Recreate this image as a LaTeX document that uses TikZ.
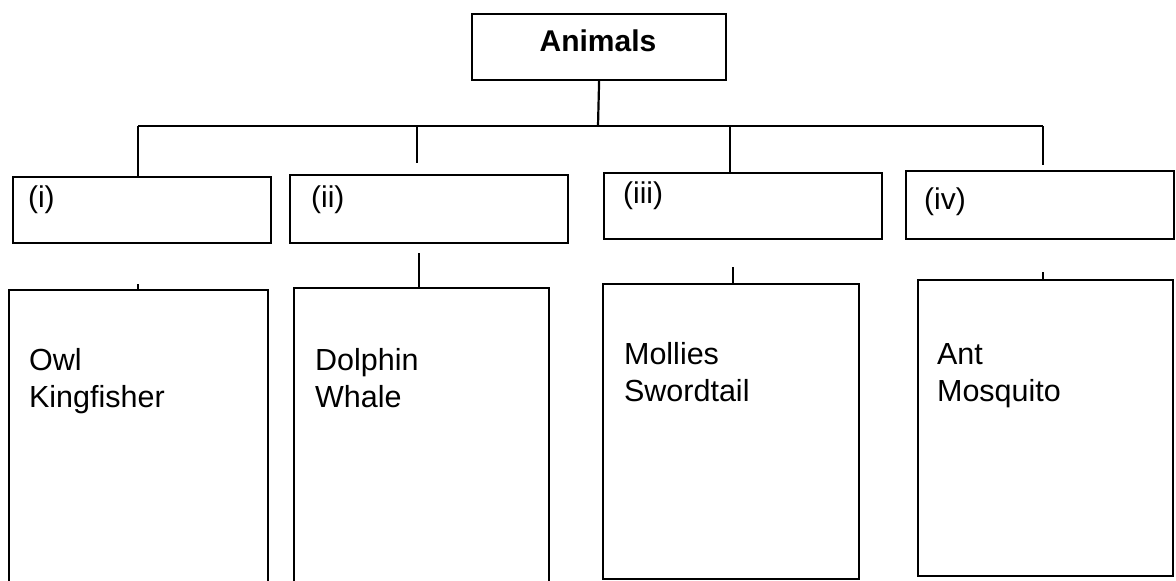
\documentclass[tikz,border=0pt]{standalone}
\usepackage{fontspec}
\setmainfont{Liberation Sans}
\begin{document}
\begin{tikzpicture}[x=1pt,y=-1pt,
  line width=2.2pt,
  boxst/.style={draw=black, rectangle, inner sep=0pt, anchor=north west},
  txt/.style={inner sep=0pt, anchor=base west, font=\fontsize{30.5}{37}\selectfont},
  lab/.style={inner sep=0pt, anchor=base west, font=\fontsize{30}{37}\selectfont}]
\useasboundingbox (0,0) rectangle (1176,581);
\clip (0,0) rectangle (1176,581);
\fill[white] (0,0) rectangle (1176,581);
% top box
\node[boxst, minimum width=254pt, minimum height=66pt] (animals) at (471,13) {};
\node[inner sep=0pt, anchor=base, font=\fontsize{30}{37}\selectfont\bfseries] (animalstxt) at (598,51) {Animals};
% second row boxes
\node[boxst, minimum width=258pt, minimum height=66pt] (r1) at (12,176) {};
\node[boxst, minimum width=278pt, minimum height=68pt] (r2) at (289,174) {};
\node[boxst, minimum width=278pt, minimum height=66pt] (r3) at (603,172) {};
\node[boxst, minimum width=268pt, minimum height=68pt] (r4) at (905,170) {};
\node[lab] (l1) at (27,207) {(i)};
\node[lab] (l2) at (310,207) {(ii)};
\node[lab] (l3) at (622,203) {(iii)};
\node[lab] (l4) at (923,209) {(iv)};
% bottom boxes
\node[boxst, minimum width=259pt, minimum height=320pt] (b1) at (8,289) {};
\node[boxst, minimum width=255pt, minimum height=320pt] (b2) at (293,287) {};
\node[boxst, minimum width=256pt, minimum height=295pt] (b3) at (602,283) {};
\node[boxst, minimum width=255pt, minimum height=296pt] (b4) at (917,279) {};
\node[txt] (owl) at (28,370) {Owl};
\node[txt] (kingfisher) at (28,407) {Kingfisher};
\node[txt] (dolphin) at (314,370) {Dolphin};
\node[txt] (whale) at (314,407) {Whale};
\node[txt] (mollies) at (623,364) {Mollies};
\node[txt] (swordtail) at (623,401) {Swordtail};
\node[txt] (ant) at (936,364) {Ant};
\node[txt] (mosquito) at (936,401) {Mosquito};
% connectors
\coordinate (bar) at (598,126);
\coordinate (c1) at (138,126);
\coordinate (c2) at (417,126);
\coordinate (c3) at (730,126);
\coordinate (c4) at (1043,126);
\coordinate (d2) at (417,163);
\coordinate (d4) at (1043,165);
\draw (animals.south) -- (bar);
\draw (c1) -- (c4);
\draw (c1) -- (c1 |- r1.north);
\draw (c2) -- (d2);
\draw (c3) -- (c3 |- r3.north);
\draw (c4) -- (d4);
\coordinate (t1) at (138,284);
\coordinate (t2) at (419,253);
\coordinate (t3) at (733,267);
\coordinate (t4) at (1043,272);
\draw (t1) -- (t1 |- b1.north);
\draw (t2) -- (t2 |- b2.north);
\draw (t3) -- (t3 |- b3.north);
\draw (t4) -- (t4 |- b4.north);
\end{tikzpicture}
\end{document}
